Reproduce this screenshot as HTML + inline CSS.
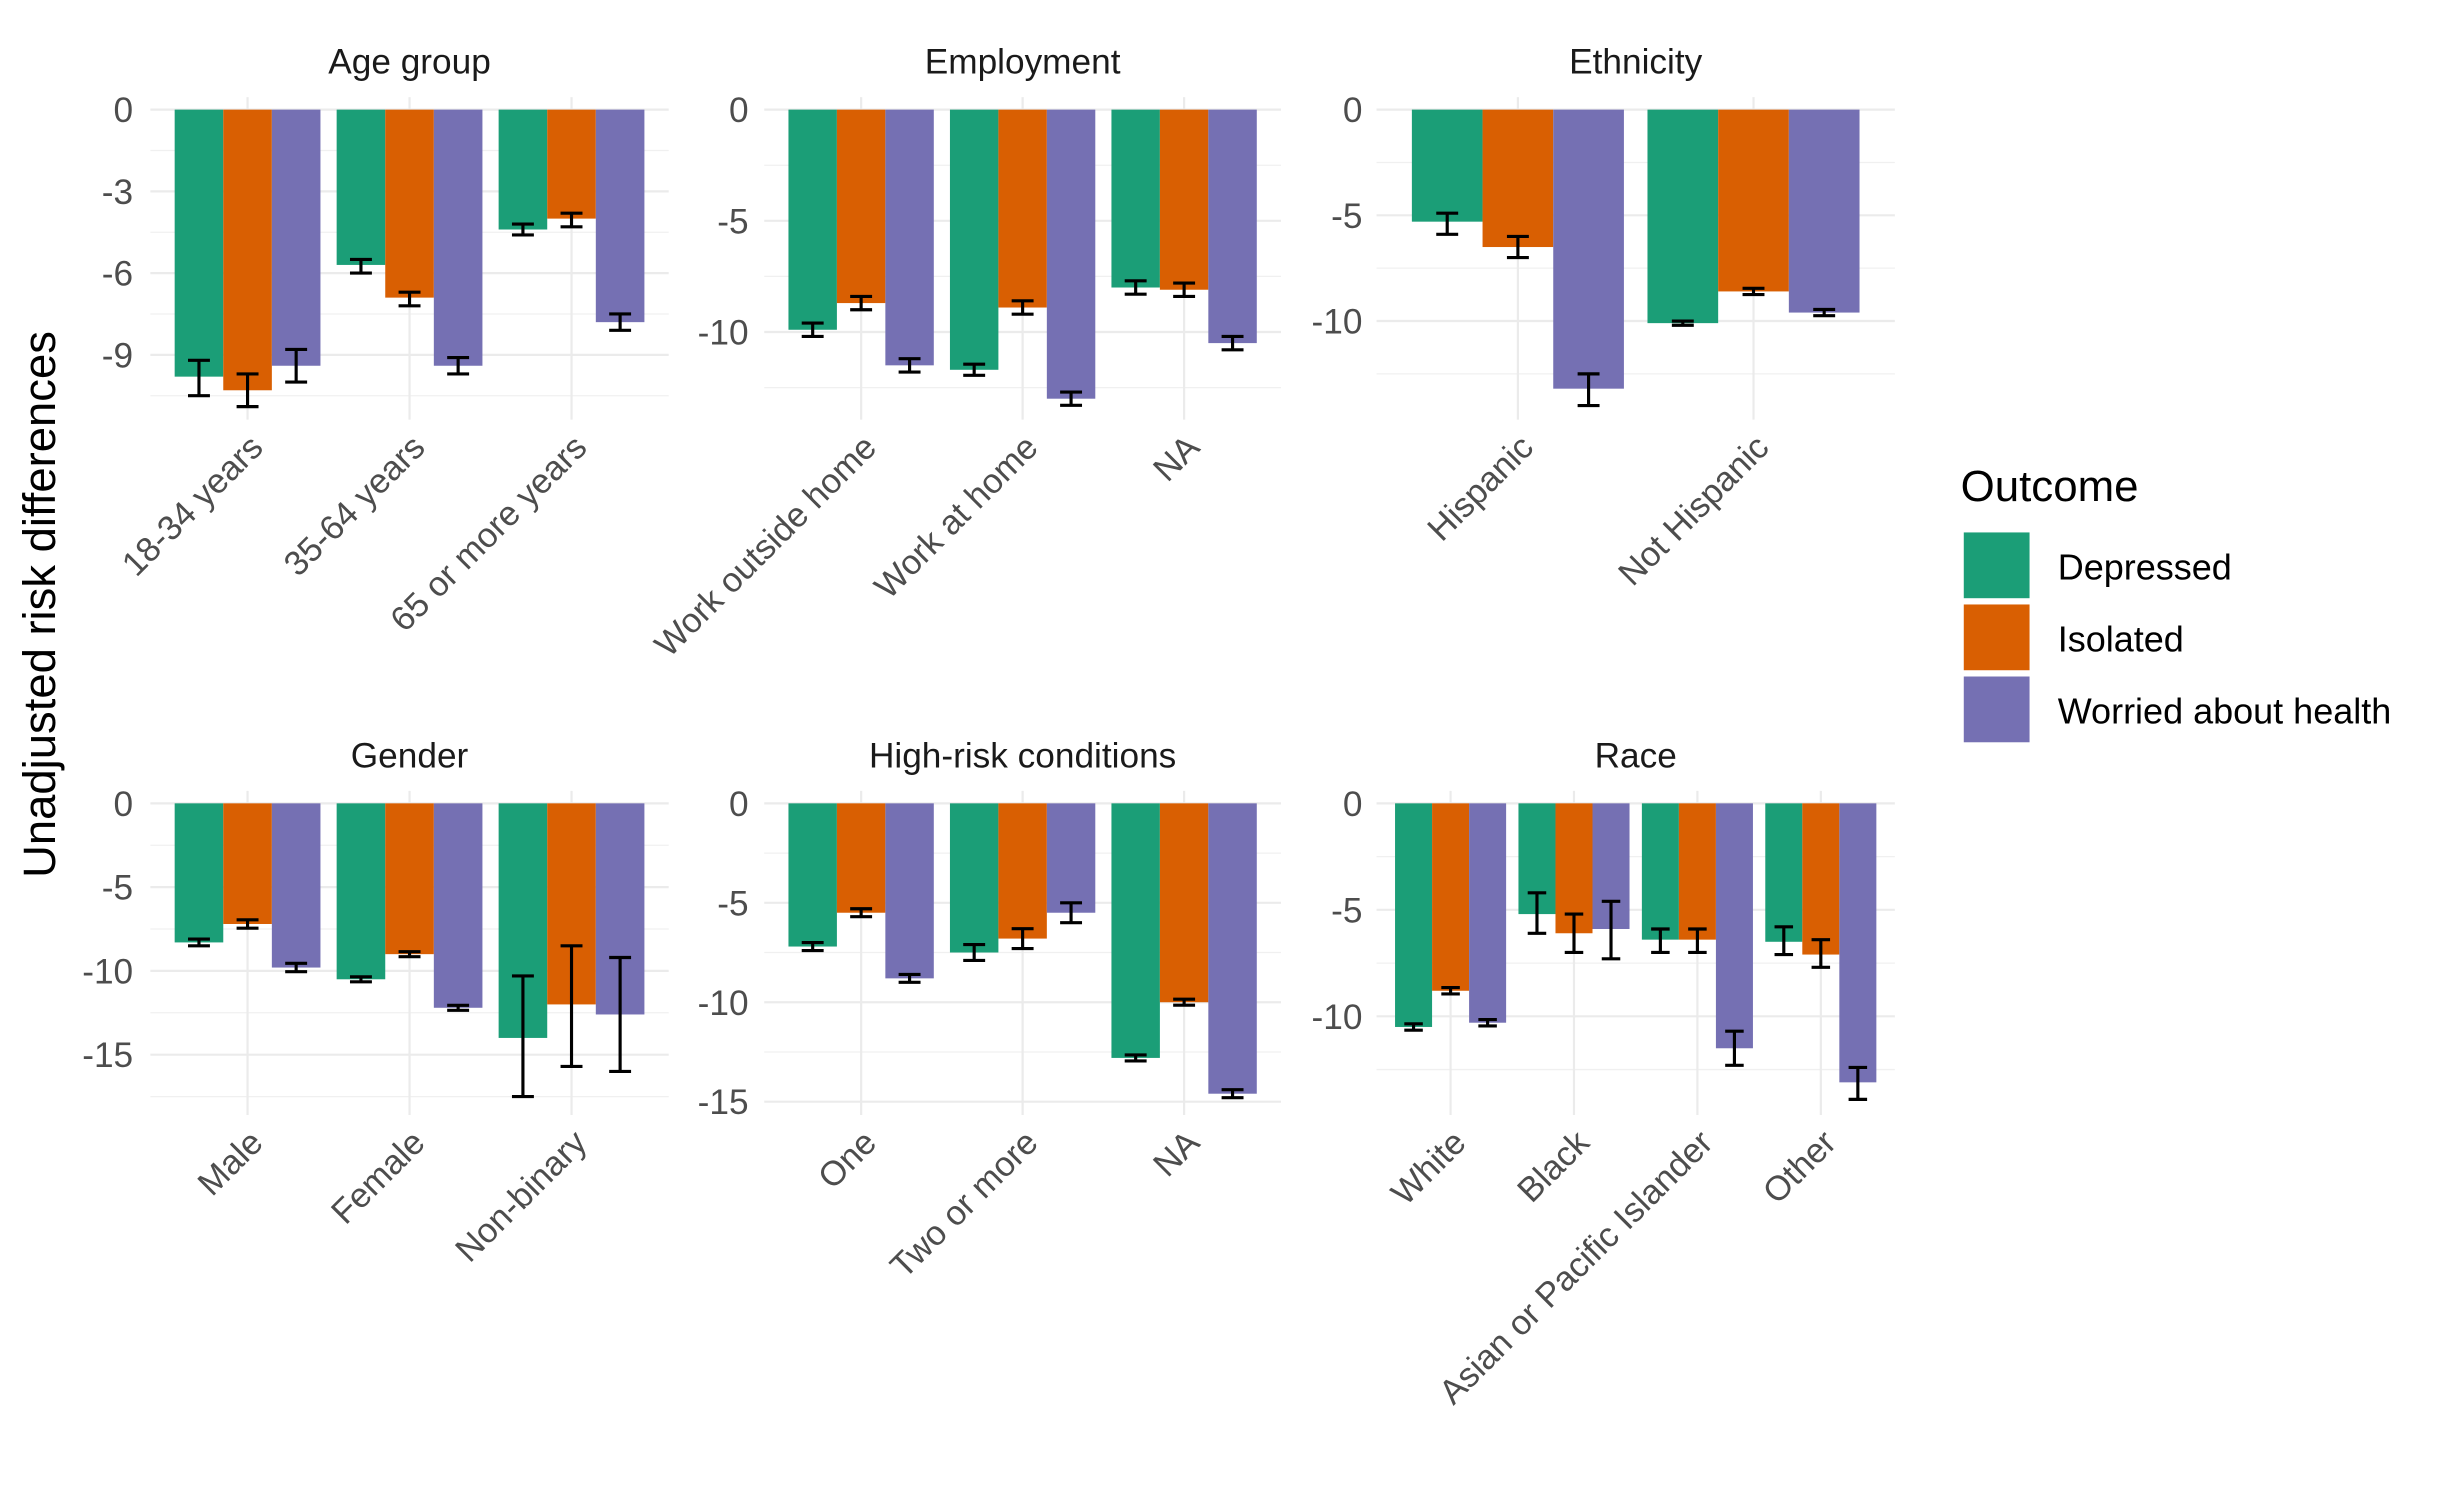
<!DOCTYPE html>
<html><head><meta charset="utf-8"><style>
html,body{margin:0;padding:0;background:#fff;}
svg{display:block;font-family:"Liberation Sans",Arial,sans-serif;}
</style></head><body>
<svg id="chart" width="2443" height="1506" viewBox="0 0 1560 961.7" xmlns="http://www.w3.org/2000/svg">
<text transform="translate(35,386) rotate(-90)" text-anchor="middle" font-size="29" fill="#000">Unadjusted risk differences</text>
<g>
<text x="1252" y="320" font-size="28" fill="#000">Outcome</text>
<rect x="1254" y="340" width="42" height="42" fill="#1b9e77"/>
<rect x="1254" y="386" width="42" height="42" fill="#d95f02"/>
<rect x="1254" y="432" width="42" height="42" fill="#7570b3"/>
<text x="1314" y="370" font-size="23" fill="#000">Depressed</text>
<text x="1314" y="416" font-size="23" fill="#000">Isolated</text>
<text x="1314" y="462" font-size="23" fill="#000">Worried about health</text>
</g>
</svg>
<script>
// ---- data ----
const panelTitles = ["Age group","Employment","Ethnicity","Gender","High-risk conditions","Race"];
const categories = [
 ["18-34 years","35-64 years","65 or more years"],
 ["Work outside home","Work at home","NA"],
 ["Hispanic","Not Hispanic"],
 ["Male","Female","Non-binary"],
 ["One","Two or more","NA"],
 ["White","Black","Asian or Pacific Islander","Other"]
];
const depressed = [[-9.8,-5.7,-4.4],[-9.9,-11.7,-8.0],[-5.3,-10.1],[-8.3,-10.5,-14.0],[-7.2,-7.5,-12.8],[-10.5,-5.2,-6.4,-6.5]];
const depressedLo = [[-10.5,-6.0,-4.6],[-10.2,-11.95,-8.3],[-5.9,-10.2],[-8.5,-10.65,-17.5],[-7.4,-7.9,-12.95],[-10.65,-6.1,-7.0,-7.1]];
const depressedHi = [[-9.2,-5.5,-4.2],[-9.6,-11.45,-7.7],[-4.9,-10.0],[-8.1,-10.35,-10.3],[-7.0,-7.1,-12.65],[-10.35,-4.2,-5.9,-5.8]];
const isolated = [[-10.3,-6.9,-4.0],[-8.7,-8.9,-8.1],[-6.5,-8.6],[-7.2,-9.0,-12.0],[-5.5,-6.8,-10.0],[-8.8,-6.1,-6.4,-7.1]];
const isolatedLo = [[-10.9,-7.2,-4.3],[-9.0,-9.2,-8.4],[-7.0,-8.75],[-7.45,-9.15,-15.7],[-5.7,-7.3,-10.15],[-8.95,-7.0,-7.0,-7.7]];
const isolatedHi = [[-9.7,-6.7,-3.8],[-8.4,-8.6,-7.8],[-6.0,-8.45],[-6.95,-8.85,-8.5],[-5.3,-6.3,-9.85],[-8.65,-5.2,-5.9,-6.4]];
const worried = [[-9.4,-9.4,-7.8],[-11.5,-13.0,-10.5],[-13.2,-9.6],[-9.8,-12.2,-12.6],[-8.8,-5.5,-14.6],[-10.3,-5.9,-11.5,-13.1]];
const worriedLo = [[-10.0,-9.7,-8.1],[-11.8,-13.3,-10.8],[-14.0,-9.75],[-10.05,-12.35,-16.0],[-9.0,-6.0,-14.8],[-10.45,-7.3,-12.3,-13.9]];
const worriedHi = [[-8.8,-9.1,-7.5],[-11.2,-12.7,-10.2],[-12.5,-9.45],[-9.55,-12.05,-9.2],[-8.6,-5.0,-14.4],[-10.15,-4.6,-10.7,-12.4]];
const tickValues = [[0,-3,-6,-9],[0,-5,-10],[0,-5,-10],[0,-5,-10,-15],[0,-5,-10,-15],[0,-5,-10]];
const minorValues = [[-1.5,-4.5,-7.5,-10.5],[-2.5,-7.5,-12.5],[-2.5,-7.5,-12.5],[-2.5,-7.5,-12.5,-17.5],[-2.5,-7.5,-12.5],[-2.5,-7.5,-12.5]];
// ---- layout ----
const layout = [
 {x0:96,x1:427,top:62,bottom:268,zero:70,unit:17.4,labX:85},
 {x0:488,x1:818,top:62,bottom:268,zero:70,unit:14.2,labX:478},
 {x0:879,x1:1210,top:62,bottom:268,zero:70,unit:13.5,labX:870},
 {x0:96,x1:427,top:505,bottom:712,zero:513,unit:10.7,labX:85},
 {x0:488,x1:818,top:505,bottom:712,zero:513,unit:12.7,labX:478},
 {x0:879,x1:1210,top:505,bottom:712,zero:513,unit:13.6,labX:870}
];
const colors = ["#1b9e77","#d95f02","#7570b3"];
const seriesKeys = ["depressed","isolated","worried"];
const NS = "http://www.w3.org/2000/svg";
const svg = document.getElementById('chart');
function mk(tag, attrs, parent){const e=document.createElementNS(NS,tag);for(const k in attrs)e.setAttribute(k,attrs[k]);(parent||svg).appendChild(e);return e;}
const series = [[depressed,depressedLo,depressedHi],[isolated,isolatedLo,isolatedHi],[worried,worriedLo,worriedHi]];
for(let p=0;p<6;p++){
 const L=layout[p];
 const g=mk('g',{});
 
 
 const y=v=>L.zero - v*L.unit;
 const n=categories[p].length;
 const step=(L.x1-L.x0)/(n+0.2);
 const cx=i=>L.x0+step*(0.6+i);
 const bw=step*0.9/3;
 const t=mk('text',{x:(L.x0+L.x1)/2,y:L.top-15,'text-anchor':'middle','font-size':'22.5',fill:'#1a1a1a'},g);
 t.textContent=panelTitles[p];
 
 
 minorValues[p].forEach(v=>{const l=mk('line',{x1:L.x0,x2:L.x1,y1:y(v),y2:y(v),stroke:'#f0f0f0','stroke-width':0.8},g);
  
  });
 tickValues[p].forEach(v=>{const l=mk('line',{x1:L.x0,x2:L.x1,y1:y(v),y2:y(v),stroke:'#ebebeb','stroke-width':1.4},g);
  
  
  const tx=mk('text',{x:L.labX,y:y(v)+8,'text-anchor':'end','font-size':'22.5',fill:'#4d4d4d'},g);
  tx.textContent=String(v);
  
  });
 for(let i=0;i<n;i++){
  const l=mk('line',{x1:cx(i),x2:cx(i),y1:L.top,y2:L.bottom,stroke:'#ebebeb','stroke-width':1.4},g);
  
  
  const tx=mk('text',{transform:`translate(${cx(i)+11},${L.bottom+19}) rotate(-45)`,'text-anchor':'end','font-size':'22',fill:'#4d4d4d'},g);
  tx.textContent=categories[p][i];
  
  
 }
 for(let s=0;s<3;s++){
  for(let i=0;i<n;i++){
   const v=series[s][0][p][i];
   const bx=cx(i)-1.5*bw+s*bw;
   const r=mk('rect',{x:bx,y:y(0),width:bw,height:Math.max(0,y(v)-y(0)),fill:colors[s]},g);
   
   
  }
 }
 for(let s=0;s<3;s++){
  for(let i=0;i<n;i++){
   const lo=series[s][1][p][i], hi=series[s][2][p][i];
   const mx=cx(i)-1.5*bw+s*bw+bw/2, hw=Math.min(bw*0.25,7);
   const e=mk('path',{d:`M${mx-hw},${y(hi)}H${mx+hw}M${mx},${y(hi)}V${y(lo)}M${mx-hw},${y(lo)}H${mx+hw}`,stroke:'#000','stroke-width':2,fill:'none'},g);
   
   
  }
 }
}
</script>
</body></html>
